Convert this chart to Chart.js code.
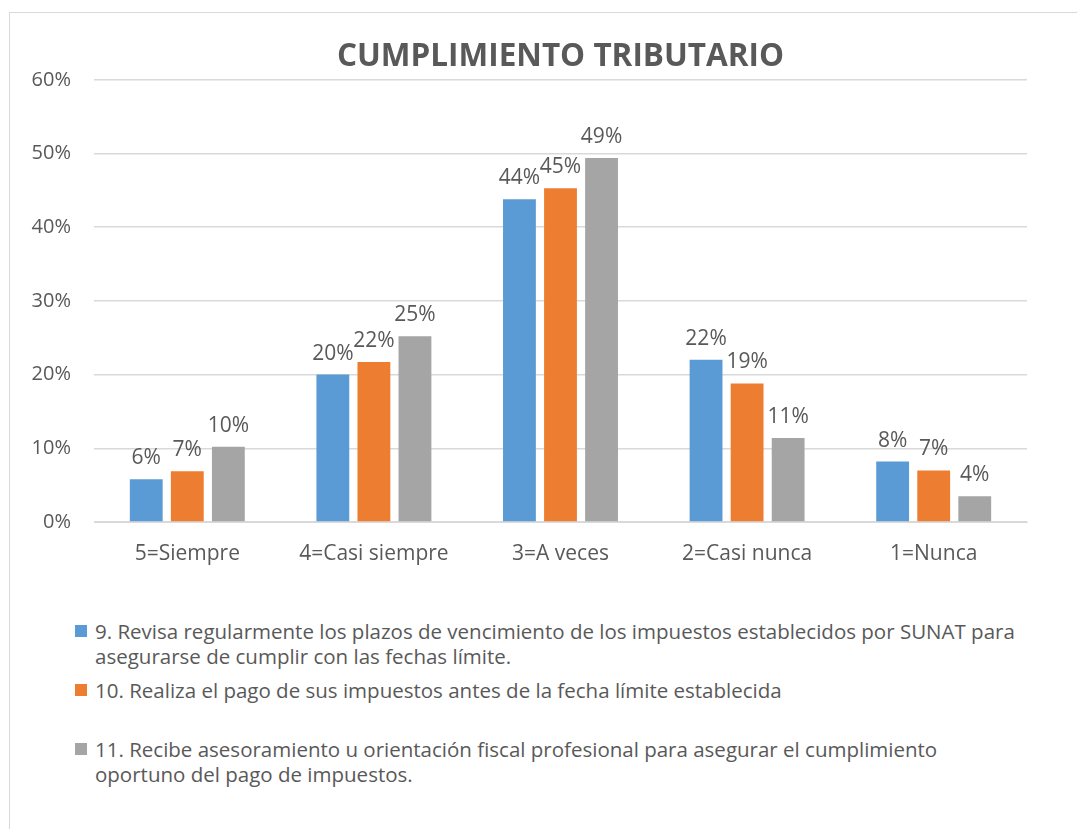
<!DOCTYPE html>
<html>
<head>
<meta charset="utf-8">
<script src="https://cdn.jsdelivr.net/npm/chart.js@4"></script>
<style>
  body { margin: 0; background: #fff; font-family: "Open Sans", sans-serif; overflow: hidden; }
  #frame { position: absolute; left: 9px; top: 12px; width: 1100px; height: 900px; border: 1.5px solid #d9d9d9; }
  #chartBox { position: absolute; left: 0; top: 0; width: 1077px; height: 600px; }
  #legend { position: absolute; left: 75px; top: 619px; width: 995px; color: #595959; font-size: 20.5px; }
  .item { display: flex; height: 59px; line-height: 25px; }
  .item span.box { width: 12px; height: 12px; margin-top: 6px; margin-right: 8px; flex: none; }
  .item span.txt { white-space: pre-line; }
</style>
</head>
<body>
<div id="frame"></div>
<div id="chartBox"><canvas id="chart"></canvas></div>
<div id="legend"></div>
<script>
// Chart data
const categories = ['5=Siempre', '4=Casi siempre', '3=A veces', '2=Casi nunca', '1=Nunca'];
const serie9 = [5.8, 20, 43.8, 22, 8.2];
const serie10 = [6.9, 21.7, 45.3, 18.8, 7.0];
const serie11 = [10.2, 25.2, 49.4, 11.4, 3.5];
const seriesNames = [
    '9. Revisa regularmente los plazos de vencimiento de los impuestos establecidos por SUNAT para\nasegurarse  de cumplir con las fechas límite.',
    '10. Realiza el pago de sus impuestos antes de la fecha límite establecida',
    '11. Recibe asesoramiento u orientación fiscal profesional para asegurar el cumplimiento\noportuno del pago de impuestos.'
];
const seriesColors = ['#5B9BD5', '#ED7D31', '#A5A5A5'];
const yTicks = [0, 10, 20, 30, 40, 50, 60];

const textColor = '#595959';

// Simple plugin to draw the value labels above each bar
const barLabels = {
    id: 'barLabels',
    afterDatasetsDraw(chart) {
        const ctx = chart.ctx;
        ctx.save();
        ctx.font = '21px "Open Sans"';
        ctx.fillStyle = textColor;
        ctx.textAlign = 'center';
        ctx.textBaseline = 'alphabetic';
        chart.data.datasets.forEach(function(ds, i) {
            chart.getDatasetMeta(i).data.forEach(function(bar, j) {
                ctx.fillText(Math.round(ds.data[j]) + '%', bar.x, bar.y - 15);
            });
        });
        ctx.restore();
    }
};

const ctx = document.getElementById('chart').getContext('2d');
const chart = new Chart(ctx, {
    type: 'bar',
    data: {
        labels: categories,
        datasets: [serie9, serie10, serie11].map(function(d, i) {
            return {
                label: seriesNames[i],
                data: d,
                backgroundColor: seriesColors[i],
                borderWidth: 0,
                categoryPercentage: 0.66,
                barPercentage: 0.8
            };
        })
    },
    options: {
        responsive: true,
        maintainAspectRatio: false,
        animation: false,
        layout: { padding: { left: 0, right: 50, top: 0, bottom: 0 } },
        plugins: {
            legend: { display: false },
            tooltip: { enabled: false },
            title: {
                display: true,
                fullSize: false,
                text: 'CUMPLIMIENTO TRIBUTARIO',
                color: textColor,
                font: { family: '"Open Sans"', size: 31.5, weight: 'bold', lineHeight: 1.2 },
                padding: { top: 38, bottom: 4 }
            }
        },
        scales: {
            x: {
                grid: { display: false, drawTicks: false },
                border: { color: '#d9d9d9', width: 1 },
                ticks: { color: textColor, font: { family: '"Open Sans"', size: 21 }, padding: 19 },
                afterFit(s) { s.height = 78; }
            },
            y: {
                min: 0,
                max: 60,
                afterBuildTicks(s) { s.ticks = yTicks.map(v => ({ value: v })); },
                grid: { color: '#d9d9d9', lineWidth: 1.5, drawTicks: false },
                border: { display: false },
                ticks: {
                    color: textColor,
                    font: { family: '"Open Sans"', size: 20 },
                    padding: 23,
                    callback: v => v + '%'
                },
                afterFit(s) { s.width = 94; }
            }
        }
    },
    plugins: [barLabels]
});

// HTML legend (wrapping text like the original)
const legendEl = document.getElementById('legend');
chart.data.datasets.forEach(function(ds) {
    const item = document.createElement('div');
    item.className = 'item';
    const box = document.createElement('span');
    box.className = 'box';
    box.style.background = ds.backgroundColor;
    const txt = document.createElement('span');
    txt.className = 'txt';
    txt.textContent = ds.label;
    item.appendChild(box);
    item.appendChild(txt);
    legendEl.appendChild(item);
});
</script>
</body>
</html>
